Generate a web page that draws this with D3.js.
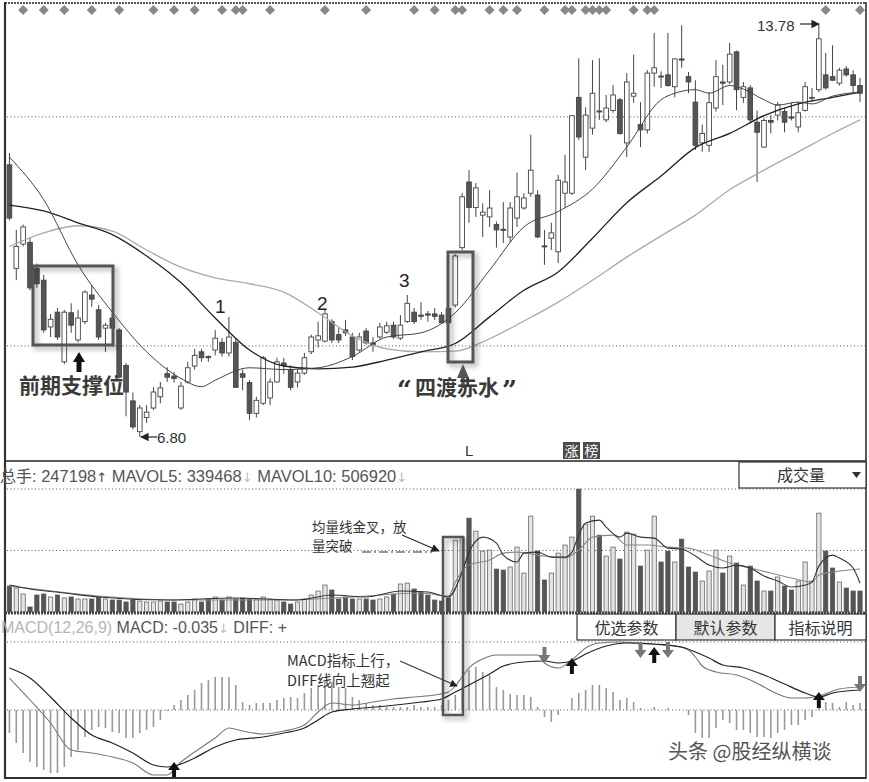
<!DOCTYPE html>
<html><head><meta charset="utf-8">
<script src="https://cdn.jsdelivr.net/npm/d3@7"></script>
<style>
body{margin:0;background:#fff;}
svg{display:block;}
</style></head><body>
<svg id="chart" width="869" height="782"></svg>
<script>
// ---------- DATA ----------
const opens=[11.40,9.65,10.06,10.09,9.65,9.45,8.66,8.91,8.07,8.90,8.44,8.75,9.20,8.95,8.64,8.81,8.61,8.01,7.41,6.89,7.13,7.29,7.48,7.87,7.83,7.29,7.73,8.00,8.24,8.16,8.27,8.40,8.22,8.40,7.87,7.72,7.20,7.37,7.46,7.73,8.05,7.94,7.73,7.88,8.24,8.44,8.42,8.75,8.53,8.61,8.49,8.27,8.59,8.39,8.49,8.57,8.69,8.47,8.75,8.91,8.86,8.88,8.88,8.86,8.97,9.03,10.00,11.11,10.68,10.55,10.52,10.39,10.31,10.18,10.50,10.67,10.92,10.89,10.03,10.16,9.93,10.92,10.92,12.54,11.53,12.02,12.31,12.16,12.32,12.50,11.77,12.56,12.08,11.99,12.95,12.90,12.92,12.72,13.19,12.89,12.46,11.77,11.73,12.36,12.80,12.80,13.31,12.54,12.70,12.12,11.70,12.15,12.24,12.30,12.21,12.04,12.32,12.53,12.67,12.92,12.89,12.78,13.02,12.92,12.74];
const highs=[11.60,10.30,10.39,10.16,9.73,9.54,8.88,8.98,8.95,9.06,8.95,9.28,9.37,9.03,8.73,8.86,8.64,8.05,7.55,7.34,7.34,7.64,7.73,7.98,7.90,7.73,8.07,8.29,8.29,8.18,8.61,8.47,8.83,8.47,7.94,7.76,7.48,8.17,7.79,8.14,8.14,8.01,7.94,8.22,8.53,8.75,8.95,8.79,8.64,8.78,8.56,8.56,8.64,8.49,8.73,8.75,8.75,8.86,9.20,8.98,9.08,8.93,8.98,8.91,9.01,9.89,10.92,11.31,11.09,10.75,10.97,10.44,10.77,10.77,11.27,10.92,11.91,10.97,10.30,10.42,11.23,11.57,12.24,13.20,12.37,13.17,13.20,12.58,12.75,12.53,12.95,13.26,12.46,13.00,13.63,12.98,13.63,13.20,13.76,12.97,12.83,12.08,12.63,13.17,13.09,13.46,13.33,12.80,12.75,12.32,12.19,12.24,12.46,12.36,12.45,12.46,12.80,12.70,13.78,13.29,13.42,13.04,13.07,13.00,12.87];
const lows=[10.46,9.45,10.02,9.28,9.32,8.56,8.49,8.44,8.03,8.56,8.40,8.71,9.00,8.44,8.24,8.61,7.79,7.15,6.93,6.80,7.04,7.26,7.37,7.73,7.72,7.26,7.70,7.94,8.07,8.07,8.18,8.16,8.16,7.63,7.59,7.09,7.13,7.34,7.34,7.72,7.87,7.59,7.64,7.85,8.20,8.31,8.40,8.39,8.39,8.51,8.10,8.24,8.36,8.24,8.46,8.54,8.46,8.44,8.73,8.71,8.78,8.75,8.78,8.71,8.69,8.99,9.96,10.42,10.52,10.18,10.35,10.00,10.08,10.09,10.35,10.64,10.86,10.16,9.71,9.96,9.74,10.68,10.89,11.82,11.31,11.91,12.16,12.12,12.28,11.91,11.53,12.45,11.70,11.93,12.72,12.70,12.72,12.54,13.04,12.61,11.65,11.62,11.62,12.30,12.41,12.76,12.32,12.45,12.12,11.11,11.69,11.93,12.15,11.95,12.15,11.95,12.30,12.46,12.63,12.67,12.82,12.74,12.89,12.63,12.46];
const closes=[10.50,10.02,10.35,9.32,9.39,8.61,8.79,8.49,8.91,8.69,8.81,9.25,9.13,8.49,8.69,8.64,7.81,7.56,6.97,7.29,7.22,7.56,7.63,7.81,7.79,7.66,7.97,8.18,8.14,8.14,8.47,8.22,8.49,7.64,7.81,7.20,7.42,8.14,7.73,8.07,8.01,7.64,7.88,8.14,8.49,8.51,8.88,8.44,8.44,8.56,8.16,8.49,8.39,8.36,8.66,8.68,8.49,8.69,9.06,8.75,8.84,8.86,8.84,8.73,8.73,9.86,10.86,10.68,11.01,10.60,10.67,10.30,10.30,10.67,10.86,10.84,11.31,10.18,10.02,10.25,11.14,11.11,12.23,11.87,12.24,12.61,12.30,12.36,12.58,11.93,12.80,12.61,11.99,12.95,13.04,12.89,12.74,13.19,13.17,12.80,11.73,11.93,12.45,12.89,12.78,13.27,12.67,12.72,12.16,11.95,12.15,12.12,12.41,12.12,12.19,12.28,12.72,12.54,13.53,12.70,12.83,13.00,12.92,12.74,12.61];
const volumes=[306000,282000,212000,59000,200000,212000,177000,200000,165000,177000,153000,153000,153000,177000,153000,141000,141000,118000,141000,129000,118000,118000,129000,118000,118000,94000,118000,153000,118000,153000,177000,141000,177000,153000,165000,153000,153000,177000,153000,141000,118000,94000,118000,153000,200000,247000,318000,259000,153000,177000,153000,153000,153000,141000,153000,177000,212000,330000,341000,271000,235000,200000,141000,129000,165000,847000,883000,1106000,953000,718000,730000,506000,494000,530000,765000,459000,1130000,718000,377000,459000,694000,789000,883000,1448000,1036000,1130000,906000,659000,765000,624000,942000,918000,541000,730000,1130000,589000,718000,589000,859000,530000,471000,365000,483000,730000,459000,659000,577000,318000,541000,365000,247000,247000,412000,306000,259000,365000,589000,365000,1165000,718000,518000,353000,282000,247000,247198];
const macdHist=[-0.23,-0.33,-0.43,-0.52,-0.57,-0.60,-0.63,-0.63,-0.57,-0.47,-0.40,-0.27,-0.20,-0.17,-0.18,-0.22,-0.23,-0.28,-0.28,-0.23,-0.20,-0.17,-0.10,-0.01,0.05,0.10,0.15,0.20,0.27,0.30,0.33,0.33,0.33,0.25,0.08,0.05,0.07,0.07,0.07,0.10,0.12,0.13,0.12,0.17,0.22,0.25,0.28,0.28,0.23,0.22,0.13,0.10,0.07,0.05,0.05,0.03,0.03,0.03,0.03,0.05,0.03,0.03,0.03,0.05,0.10,0.15,0.23,0.40,0.43,0.38,0.35,0.23,0.20,0.16,0.15,0.15,0.13,0.03,-0.07,-0.12,-0.05,0.00,0.12,0.17,0.20,0.25,0.25,0.22,0.18,0.10,0.12,0.08,0.02,0.00,0.03,0.00,0.02,0.00,0.00,-0.05,-0.23,-0.28,-0.28,-0.18,-0.10,-0.13,-0.20,-0.20,-0.23,-0.27,-0.27,-0.28,-0.23,-0.20,-0.15,-0.15,-0.10,-0.07,0.05,0.08,0.07,0.03,0.08,0.05,0.07];
// moving averages: [candle index, value]
const maShort=[[0,11.53],[5,10.81],[10,9.71],[15,8.91],[20,8.24],[25,7.79],[28,7.65],[30,7.76],[35,7.97],[40,7.94],[45,7.97],[50,8.16],[55,8.49],[60,8.56],[65,8.90],[70,9.62],[75,10.35],[80,10.61],[85,10.99],[90,11.70],[95,12.50],[97,12.61],[100,12.67],[102,12.61],[105,12.74],[107,12.68],[110,12.50],[112,12.41],[115,12.46],[117,12.43],[120,12.56],[124,12.63]];
const maMid=[[0,10.72],[5,10.62],[10,10.42],[15,10.22],[20,9.86],[25,9.41],[30,8.81],[35,8.27],[40,8.00],[45,7.95],[50,7.98],[55,8.10],[60,8.24],[65,8.38],[70,8.83],[75,9.28],[80,9.59],[85,10.16],[90,10.76],[95,11.21],[100,11.69],[105,11.93],[110,12.23],[115,12.43],[120,12.54],[124,12.63]];
const maLong=[[0,10.02],[5,10.25],[10,10.37],[15,10.28],[20,9.96],[25,9.67],[30,9.49],[35,9.39],[40,9.25],[45,8.90],[50,8.51],[55,8.29],[60,8.24],[65,8.25],[70,8.46],[75,8.76],[80,9.08],[85,9.45],[90,9.84],[95,10.20],[100,10.55],[105,10.98],[110,11.31],[115,11.62],[120,11.93],[124,12.16]];
const mavol5=[[0,318000],[3,271000],[8,224000],[13,177000],[23,141000],[33,165000],[42,141000],[47,200000],[52,177000],[57,247000],[61,235000],[64,177000],[66,471000],[67,706000],[69,883000],[71,812000],[72,671000],[74,589000],[75,694000],[77,706000],[79,647000],[81,647000],[82,706000],[83,906000],[84,1048000],[86,1083000],[87,1000000],[89,883000],[90,930000],[92,883000],[94,871000],[96,753000],[98,742000],[100,659000],[102,553000],[104,518000],[106,553000],[108,518000],[110,424000],[112,365000],[114,294000],[116,318000],[117,353000],[118,541000],[120,671000],[121,636000],[123,518000],[124,339468]];
const mavol10=[[0,306000],[5,259000],[13,188000],[25,141000],[40,141000],[50,177000],[60,224000],[64,188000],[65,353000],[67,553000],[70,612000],[72,694000],[74,706000],[77,671000],[81,636000],[83,730000],[85,883000],[88,906000],[90,789000],[93,789000],[96,765000],[99,753000],[102,671000],[105,577000],[108,518000],[111,459000],[114,400000],[117,353000],[118,435000],[120,471000],[124,506920]];
const diffLine=[[0,0.32],[3,0.10],[6,-0.13],[9,-0.40],[12,-0.43],[15,-0.47],[18,-0.53],[21,-0.65],[23,-0.65],[25,-0.52],[27,-0.42],[30,-0.28],[32,-0.18],[34,-0.21],[37,-0.24],[40,-0.21],[43,-0.15],[45,-0.02],[47,0.07],[50,0.05],[53,0.08],[56,0.11],[59,0.13],[62,0.15],[64,0.18],[65,0.24],[66,0.33],[67,0.42],[69,0.51],[71,0.55],[74,0.55],[77,0.55],[78,0.47],[80,0.42],[82,0.50],[84,0.62],[86,0.67],[89,0.68],[93,0.66],[97,0.64],[99,0.60],[100,0.53],[101,0.44],[103,0.38],[106,0.35],[108,0.30],[110,0.23],[112,0.16],[114,0.12],[116,0.12],[118,0.14],[121,0.21],[124,0.23]];
const deaLine=[[0,0.42],[3,0.32],[6,0.13],[9,-0.08],[12,-0.25],[15,-0.33],[18,-0.43],[21,-0.55],[23,-0.57],[25,-0.54],[27,-0.48],[30,-0.37],[33,-0.30],[37,-0.27],[40,-0.23],[43,-0.18],[45,-0.10],[47,-0.02],[50,0.01],[55,0.04],[60,0.08],[63,0.11],[65,0.18],[67,0.25],[70,0.36],[72,0.44],[75,0.48],[78,0.49],[80,0.47],[82,0.49],[84,0.56],[87,0.64],[90,0.67],[94,0.66],[98,0.63],[100,0.58],[102,0.52],[104,0.45],[107,0.42],[110,0.35],[113,0.26],[116,0.17],[118,0.13],[120,0.17],[124,0.20]];
const macdSignals=[[24,'up',-0.52],[78,'down',0.47],[82,'up',0.52],[92,'down',0.52],[94,'up',0.63],[96,'down',0.52],[118,'up',0.18],[124,'down',0.18]];
const topMarks=[2,5,8,12,16,21,24,27,31,33,34,38,46,52,59,62,65,66,70,72,74,78,81,82,84,85,86,87,91,93,94,119,124];
const priceGrid=[8.34,12.21];
const volGrid=[725000,1450000];
const macdGrid=[0,0.68];

// ---------- SCALES ----------
const N=opens.length;
const svg=d3.select('#chart');
const xi=d3.scaleLinear().domain([0,N-1]).range([9.43,860]);
const step=xi(1)-xi(0);
const yP=d3.scaleLinear().domain([6.80,13.78]).range([437,24]);
const yV=d3.scaleLinear().domain([0,1450000]).range([612,489]);
const yM=d3.scaleLinear().domain([-0.67,0.68]).range([777,642]);
const SANS='"Liberation Sans", Arial, sans-serif';
const CJK='"Noto Sans CJK SC", sans-serif';

svg.append('rect').attr('width',869).attr('height',782).attr('fill','#fff');
const defs=svg.append('defs');
const sh=defs.append('filter').attr('id','sh').attr('x','-60%').attr('y','-20%').attr('width','220%').attr('height','140%');
sh.append('feDropShadow').attr('dx',3).attr('dy',3).attr('stdDeviation',2.5).attr('flood-color','#000').attr('flood-opacity',0.35);
defs.append('marker').attr('id','ah').attr('viewBox','0 0 10 10').attr('refX',9).attr('refY',5)
 .attr('markerWidth',7).attr('markerHeight',7).attr('orient','auto-start-reverse')
 .append('path').attr('d','M0,0L10,5L0,10z').attr('fill','#222');
defs.append('clipPath').attr('id','cp').append('rect').attr('x',6).attr('y',4).attr('width',859).attr('height',456);

function hline(y,x1,x2,style){
  svg.append('line').attr('x1',x1).attr('x2',x2).attr('y1',y).attr('y2',y)
   .attr('stroke',style.c||'#555').attr('stroke-width',style.w||1).attr('stroke-dasharray',style.d||null);
}
// grids
priceGrid.forEach(v=>hline(yP(v),7,865,{d:'1,2.5',c:'#555'}));
volGrid.forEach(v=>hline(yV(v),7,865,{d:'1,2.5',c:'#555'}));
macdGrid.forEach(v=>hline(yM(v),7,865,{d:'1,2.5',c:'#555'}));

// ---------- PRICE PANEL ----------
const pg=svg.append('g').attr('clip-path','url(#cp)');
const bw=step*0.68;
d3.range(N).forEach(i=>{
  const x=xi(i), up=closes[i]>=opens[i];
  pg.append('line').attr('x1',x).attr('x2',x).attr('y1',yP(highs[i])).attr('y2',yP(lows[i])).attr('stroke','#444').attr('stroke-width',1);
  const y1=yP(Math.max(opens[i],closes[i])), y2=yP(Math.min(opens[i],closes[i]));
  pg.append('rect').attr('x',x-bw/2).attr('y',y1).attr('width',bw).attr('height',Math.max(1,y2-y1))
   .attr('fill',up?'#fff':'#555').attr('stroke','#444').attr('stroke-width',0.9);
});
const lineP=d3.line().x(d=>xi(d[0])).y(d=>yP(d[1])).curve(d3.curveMonotoneX);
pg.append('path').attr('d',lineP(maLong)).attr('fill','none').attr('stroke','#aaa').attr('stroke-width',1.3);
pg.append('path').attr('d',lineP(maMid)).attr('fill','none').attr('stroke','#222').attr('stroke-width',1.3);
pg.append('path').attr('d',lineP(maShort)).attr('fill','none').attr('stroke','#444').attr('stroke-width',1);

// top markers
topMarks.forEach(i=>{
  const x=xi(i),y=10,r=5;
  svg.append('path').attr('d',`M${x},${y-r}L${x+r},${y}L${x},${y+r}L${x-r},${y}Z`).attr('fill','#888');
});

// ---------- VOLUME PANEL ----------
const vbw=step*0.62;
d3.range(N).forEach(i=>{
  const up=closes[i]>=opens[i];
  svg.append('rect').attr('x',xi(i)-vbw/2).attr('y',yV(volumes[i])).attr('width',vbw).attr('height',yV(0)-yV(volumes[i]))
   .attr('fill',up?'#e4e4e4':'#555').attr('stroke',up?'#666':'#555').attr('stroke-width',0.8);
});
const lineV=d3.line().x(d=>xi(d[0])).y(d=>yV(d[1])).curve(d3.curveMonotoneX);
svg.append('path').attr('d',lineV(mavol10)).attr('fill','none').attr('stroke','#888').attr('stroke-width',1.1);
svg.append('path').attr('d',lineV(mavol5)).attr('fill','none').attr('stroke','#333').attr('stroke-width',1.1);

// ---------- MACD PANEL ----------
d3.range(N).forEach(i=>{
  if(Math.abs(macdHist[i])<0.005) return;
  svg.append('line').attr('x1',xi(i)).attr('x2',xi(i)).attr('y1',yM(0)).attr('y2',yM(macdHist[i]))
   .attr('stroke','#999').attr('stroke-width',1.6);
});
const lineM=d3.line().x(d=>xi(d[0])).y(d=>yM(d[1])).curve(d3.curveMonotoneX);
svg.append('path').attr('d',lineM(diffLine)).attr('fill','none').attr('stroke','#777').attr('stroke-width',1.1);
svg.append('path').attr('d',lineM(deaLine)).attr('fill','none').attr('stroke','#222').attr('stroke-width',1.2);

function arrow(x,tip,dir,color,hw,hh,sw,len){
  const s=dir==='up'?1:-1;
  const p=[[x,tip],[x+hw,tip+s*hh],[x+sw,tip+s*hh],[x+sw,tip+s*len],[x-sw,tip+s*len],[x-sw,tip+s*hh],[x-hw,tip+s*hh]];
  svg.append('path').attr('d','M'+p.map(q=>q.join(',')).join('L')+'Z').attr('fill',color);
}
macdSignals.forEach(([i,dir,v])=>arrow(xi(i),yM(v),dir,dir==='up'?'#111':'#777',6,8,2,16));

// ---------- FRAME ----------
hline(3,5,866,{c:'#555',w:2.2,d:'2,1'});
hline(461,5,866,{c:'#222',w:1.6});
hline(613,5,866,{c:'#444',w:3,d:'2,1'});
hline(778,5,866,{c:'#333',w:2});
svg.append('line').attr('x1',5).attr('x2',5).attr('y1',2).attr('y2',779).attr('stroke','#333').attr('stroke-width',2.2);
svg.append('line').attr('x1',866).attr('x2',866).attr('y1',2).attr('y2',779).attr('stroke','#333').attr('stroke-width',1.6);

// ---------- TEXTS / ANNOTATIONS ----------
function txt(x,y,s,size,opt={}){
  return svg.append('text').attr('x',x).attr('y',y).text(s).attr('font-size',size)
   .attr('font-family',opt.f||SANS).attr('fill',opt.c||'#333').attr('font-weight',opt.w||'normal')
   .attr('text-anchor',opt.a||'start');
}
// box 1
svg.append('rect').attr('x',33).attr('y',266).attr('width',80).attr('height',79).attr('fill','none')
 .attr('stroke','#555').attr('stroke-width',3).attr('filter','url(#sh)');
arrow(79,352,'up','#111',6,10,2.5,20);
txt(19,393,'前期支撑位',21,{f:CJK,c:'#3a3a3a',w:'bold'});
// 6.80
svg.append('line').attr('x1',157).attr('x2',141).attr('y1',437).attr('y2',437).attr('stroke','#222').attr('stroke-width',1.2).attr('marker-end','url(#ah)');
txt(157,443,'6.80',15);
txt(215,313,'1',19,{c:'#222'});
txt(317,310,'2',19,{c:'#222'});
txt(399,287,'3',19,{c:'#222'});
// box 2
svg.append('rect').attr('x',448).attr('y',252).attr('width',25).attr('height',110).attr('fill','none')
 .attr('stroke','#555').attr('stroke-width',3).attr('filter','url(#sh)');
arrow(463,364,'up','#555',6,14,1.8,24);
txt(397,399,'\u201C',26,{f:'"DejaVu Serif", serif',w:'bold'});
txt(415,395,'四渡赤水',21,{f:CJK,w:'bold',c:'#3a3a3a'});
txt(502,399,'\u201D',26,{f:'"DejaVu Serif", serif',w:'bold'});
// 13.78
txt(757,31,'13.78',15);
svg.append('line').attr('x1',800).attr('x2',819).attr('y1',24).attr('y2',24).attr('stroke','#222').attr('stroke-width',1.2).attr('marker-end','url(#ah)');
// L, 涨 榜
txt(465,456,'L',15);
[['涨',563],['榜',583]].forEach(([s,x])=>{
  svg.append('rect').attr('x',x).attr('y',442).attr('width',17).attr('height',17).attr('fill','#4a4a4a');
  txt(x+8.5,456,s,14,{f:CJK,c:'#fff',a:'middle'});
});

// volume header
const vh=svg.append('text').attr('x',0).attr('y',482).attr('font-size',16.5).attr('font-family',SANS).attr('fill','#555');
vh.append('tspan').attr('font-family',CJK).attr('font-size',16).text('总手');
vh.append('tspan').text(': 247198');
vh.append('tspan').attr('font-family','"DejaVu Sans"').attr('font-size',13).attr('fill','#444').text('↑');
vh.append('tspan').text(' MAVOL5: 339468');
vh.append('tspan').attr('font-family','"DejaVu Sans"').attr('font-size',13).attr('fill','#bbb').text('↓');
vh.append('tspan').text(' MAVOL10: 506920');
vh.append('tspan').attr('font-family','"DejaVu Sans"').attr('font-size',13).attr('fill','#bbb').text('↓');
svg.append('rect').attr('x',739).attr('y',462).attr('width',127).attr('height',26).attr('fill','#fff').attr('stroke','#333').attr('stroke-width',1.2);
txt(777,481,'成交量',16,{f:CJK,c:'#333'});
svg.append('path').attr('d','M852,472L861,472L856.5,478Z').attr('fill','#333');

// volume annotation
txt(312,532,'均量线金叉，放',13.5,{f:CJK});
txt(312,551,'量突破',13.5,{f:CJK});
svg.append('line').attr('x1',402).attr('y1',535).attr('x2',439).attr('y2',551).attr('stroke','#222').attr('stroke-width',1.2).attr('marker-end','url(#ah)');
svg.append('line').attr('x1',362).attr('y1',552).attr('x2',432).attr('y2',552).attr('stroke','#333').attr('stroke-width',1.2).attr('stroke-dasharray','9,3,2,3');
svg.append('rect').attr('x',443).attr('y',537).attr('width',20).attr('height',178).attr('fill','none')
 .attr('stroke','#555').attr('stroke-width',2.5).attr('filter','url(#sh)');

// MACD header
const mh=svg.append('text').attr('x',1).attr('y',633).attr('font-size',16).attr('font-family',SANS).attr('fill','#555');
mh.append('tspan').attr('fill','#b5b5b5').text('MACD(12,26,9)');
mh.append('tspan').text(' MACD: -0.035');
mh.append('tspan').attr('font-family','"DejaVu Sans"').attr('font-size',13).attr('fill','#bbb').text('↓');
mh.append('tspan').text(' DIFF: +');
// buttons
[['优选参数',577,676,'#fff'],['默认参数',676,775,'#e6e6e6'],['指标说明',775,866,'#fff']].forEach(([s,x1,x2,bg])=>{
  svg.append('rect').attr('x',x1).attr('y',614).attr('width',x2-x1).attr('height',26).attr('fill',bg).attr('stroke','#333').attr('stroke-width',1.2);
  txt((x1+x2)/2,634,s,16,{f:CJK,a:'middle',c:'#333'});
});
// MACD annotation
txt(287,666,'MACD指标上行，',14.5,{f:CJK});
txt(287,686,'DIFF线向上翘起',14.5,{f:CJK});
svg.append('line').attr('x1',400).attr('y1',661).attr('x2',457).attr('y2',686).attr('stroke','#333').attr('stroke-width',1.1).attr('marker-end','url(#ah)');

// watermark
txt(668,759,'头条 @股经纵横谈',20,{f:CJK,c:'#555'}).attr('stroke','#fff').attr('stroke-width',3).attr('paint-order','stroke');
</script>
</body></html>
